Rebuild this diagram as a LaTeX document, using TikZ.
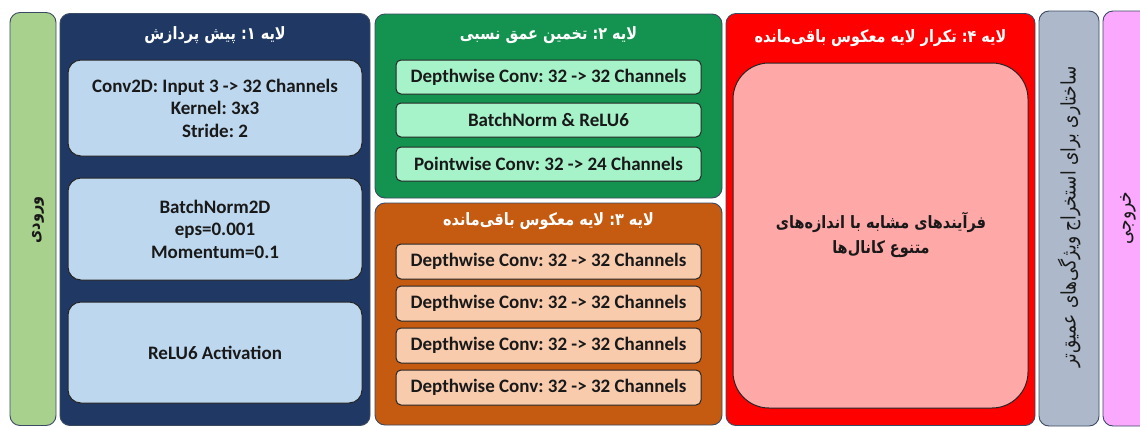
\documentclass[tikz,border=0pt]{standalone}
\usepackage{fontspec}
\setmainfont{Carlito}
\newfontfamily\fa[Script=Arabic, FakeStretch=0.85]{DejaVu Sans}
\TeXXeTstate=1
\frenchspacing
\newcommand{\rtl}[1]{{\fa\beginR #1\endR}}
\definecolor{inputgreen}{HTML}{A9D18E}
\definecolor{navy}{HTML}{203864}
\definecolor{lightblue}{HTML}{BDD7EE}
\definecolor{pgreen}{HTML}{13934F}
\definecolor{mint}{HTML}{A6F3C9}
\definecolor{porange}{HTML}{C55A11}
\definecolor{peach}{HTML}{F8CBAD}
\definecolor{pred}{HTML}{FF0000}
\definecolor{pinkin}{HTML}{FFA8A8}
\definecolor{pgray}{HTML}{ADB9CA}
\definecolor{ppink}{HTML}{FBA9FF}
\definecolor{pborder}{HTML}{3B4A63}
\begin{document}
\begin{tikzpicture}[x=1pt,y=-1pt,
  panel/.style={draw=pborder, line width=0.9pt, rounded corners=10pt, inner sep=0pt},
  subbox/.style={draw=black!85, line width=1pt, inner sep=0pt, align=center,
    font=\bfseries\fontsize{19}{22.5}\selectfont, text=black!90},
  ptitle/.style={text=white, font=\fa\bfseries\fontsize{17}{20}\selectfont, inner sep=0pt},
  vtext/.style={rotate=90, inner sep=0pt, text=black!90}
]
\useasboundingbox (0,0) rectangle (1140,426);
\fill[white] (0,0) rectangle (1140,426);
\begin{scope}
\clip (0,0) rectangle (1140,426);
% outer panels
\node[panel, fill=inputgreen, minimum width=46pt, minimum height=413pt] (inp) at (33,219) {};
\node[panel, fill=navy, minimum width=310pt, minimum height=412pt] (l1) at (215,219.5) {};
\node[panel, fill=pgreen, minimum width=347pt, minimum height=184pt] (l2) at (548.5,106) {};
\node[panel, fill=porange, minimum width=347pt, minimum height=222pt] (l3) at (548.5,314) {};
\node[panel, fill=pred, minimum width=309pt, minimum height=412pt] (l4) at (880.5,219.5) {};
\node[panel, fill=pgray, minimum width=60pt, minimum height=415pt] (gr) at (1069,218.5) {};
\node[panel, fill=ppink, minimum width=60pt, minimum height=415pt] (pk) at (1133,218.5) {};
\end{scope}
% titles
\node[ptitle] (t1) at (215,35) {\rtl{لایه ۱: پیش پردازش}};
\node[ptitle] (t2) at (548.5,35) {\rtl{لایه ۲: تخمین عمق نسبی}};
\node[ptitle] (t3) at (548.5,221) {\rtl{لایه ۳: لایه معکوس باقی‌مانده}};
\node[ptitle] (t4) at (880.5,38) {\rtl{لایه ۴: تکرار لایه معکوس باقی‌مانده}};
% layer 1 boxes
\node[subbox, fill=lightblue, rounded corners=13pt, minimum width=294pt, minimum height=96pt] (b1) at (215,108)
  {Conv2D: Input 3 -> 32 Channels\\Kernel: 3x3\\Stride: 2};
\node[subbox, fill=lightblue, rounded corners=13pt, minimum width=294pt, minimum height=102pt] (b2) at (215,229)
  {BatchNorm2D\\eps=0.001\\Momentum=0.1};
\node[subbox, fill=lightblue, rounded corners=13pt, minimum width=294pt, minimum height=101pt] (b3) at (215,352.5)
  {ReLU6 Activation};
% layer 2 boxes
\node[subbox, fill=mint, rounded corners=5pt, minimum width=305pt, minimum height=34pt] (g1) at (548.5,77) {Depthwise Conv: 32 -> 32 Channels};
\node[subbox, fill=mint, rounded corners=5pt, minimum width=305pt, minimum height=34pt] (g2) at (548.5,120) {BatchNorm \& ReLU6};
\node[subbox, fill=mint, rounded corners=5pt, minimum width=305pt, minimum height=34pt] (g3) at (548.5,164) {Pointwise Conv: 32 -> 24 Channels};
% layer 3 boxes
\node[subbox, fill=peach, rounded corners=5pt, minimum width=305pt, minimum height=35pt] (o1) at (548.5,261.5) {Depthwise Conv: 32 -> 32 Channels};
\node[subbox, fill=peach, rounded corners=5pt, minimum width=305pt, minimum height=35pt] (o2) at (548.5,303.5) {Depthwise Conv: 32 -> 32 Channels};
\node[subbox, fill=peach, rounded corners=5pt, minimum width=305pt, minimum height=35pt] (o3) at (548.5,345.5) {Depthwise Conv: 32 -> 32 Channels};
\node[subbox, fill=peach, rounded corners=5pt, minimum width=305pt, minimum height=35pt] (o4) at (548.5,387.5) {Depthwise Conv: 32 -> 32 Channels};
% layer 4 inner
\node[subbox, fill=pinkin, rounded corners=36pt, minimum width=295pt, minimum height=345pt] (r1) at (880.5,235.5) {};
\node[align=center, inner sep=0pt, text=black!90, font=\fa\bfseries\fontsize{17}{25}\selectfont] (r1t) at (881,235)
  {\rtl{فرآیندهای مشابه با اندازه‌های}\\\rtl{متنوع کانال‌ها}};
% vertical texts
\node[vtext, font=\fa\bfseries\fontsize{17}{20}\selectfont] (inpt) at (38,220) {\rtl{ورودی}};
\node[vtext, font=\fa\fontsize{20}{22}\selectfont] (grt) at (1069,217) {\rtl{ساختاری برای استخراج ویژگی‌های عمیق‌تر}};
\node[vtext, font=\fa\fontsize{20}{22}\selectfont] (pkt) at (1128,218) {\rtl{خروجی}};
\end{tikzpicture}
\end{document}
